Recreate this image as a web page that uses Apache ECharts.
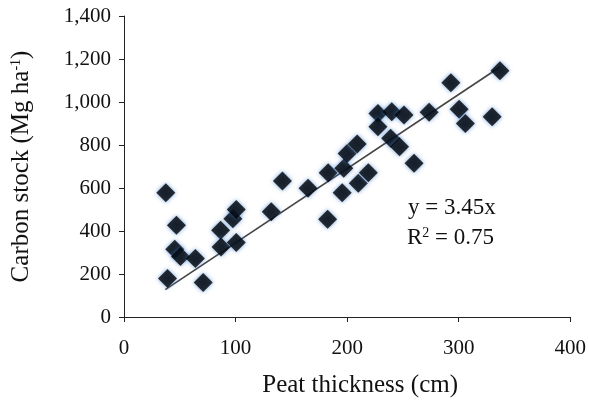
<!DOCTYPE html>
<html>
<head>
<meta charset="utf-8">
<script src="https://cdn.jsdelivr.net/npm/echarts@6/dist/echarts.min.js"></script>
<style>html,body{margin:0;padding:0;background:#fff}#c{width:589px;height:403px}</style>
</head>
<body>
<div id="c"></div>
<script>
const peatThickness = [37.5,39,47,45.5,50.6,64,71,86.6,87,97.6,100.6,100.6,132,142,165,182.5,183,197,195.6,210,219,200,209,227.6,227.6,240,239,247,251,260,273.5,293,300.4,306,330,337];
const carbonStock  = [578,179,427,315,281,272,161,403,326,457,500,346,490,632,599,455,671,692,578,622,671,760,805,947,885,955,831,792,939,715,952,1089,966,900,931,1145];
const fitSlope = 3.45;
const fitRange = [37, 337];
const xTicks = [0,100,200,300,400];
const yTicks = [0,200,400,600,800,1000,1200,1400];

const points = peatThickness.map((x,i)=>[x, carbonStock[i]]);
const fitLine = fitRange.map(x=>[x, x*fitSlope]);
const fam = '"Liberation Serif","DejaVu Serif",serif';

const chart = echarts.init(document.getElementById('c'));
chart.setOption({
  animation:false,
  grid:{left:124,right:15,top:16,bottom:86},
  xAxis:{
    type:'value',min:xTicks[0],max:xTicks[xTicks.length-1],interval:100,
    splitLine:{show:false},
    axisLine:{lineStyle:{color:'#222',width:1}},
    axisTick:{length:5,lineStyle:{color:'#222'}},
    axisLabel:{color:'#111',fontFamily:fam,fontSize:21,margin:21},
    name:'Peat thickness (cm)',nameLocation:'middle',nameGap:56,
    nameTextStyle:{color:'#111',fontFamily:fam,fontSize:25,padding:[0,0,0,26]}
  },
  yAxis:{
    type:'value',min:yTicks[0],max:yTicks[yTicks.length-1],interval:200,
    splitLine:{show:false},
    axisLine:{show:true,lineStyle:{color:'#222',width:1}},
    axisTick:{show:true,length:5,lineStyle:{color:'#222'}},
    axisLabel:{color:'#111',fontFamily:fam,fontSize:21,margin:13,
      formatter:v=>v.toLocaleString('en-US')},
    name:'{a|Carbon stock (Mg ha}{s|-1}{a|)}',nameLocation:'middle',nameGap:90,
    nameTextStyle:{rich:{
      a:{color:'#111',fontFamily:fam,fontSize:25},
      s:{color:'#111',fontFamily:fam,fontSize:14,verticalAlign:'top',padding:[0,0,10,0]}
    }}
  },
  series:[
    {type:'line',data:fitLine,symbol:'none',lineStyle:{color:'#444',width:1.6},z:1},
    {type:'scatter',data:points,symbol:'diamond',symbolSize:19,
     itemStyle:{color:'#000',shadowColor:'rgba(50,120,210,0.85)',shadowBlur:4},z:2}
  ],
  graphic:[
    {type:'text',left:408,top:196,style:{text:'y = 3.45x',font:'23px '+fam,fill:'#111'}},
    {type:'text',left:407,top:226,style:{text:'{a|R}{s|2}{a| = 0.75}',
      rich:{a:{font:'23px '+fam,fill:'#111'},s:{font:'14px '+fam,fill:'#111',verticalAlign:'top',padding:[0,0,9,0]}}}}
  ]
});
</script>
</body>
</html>
